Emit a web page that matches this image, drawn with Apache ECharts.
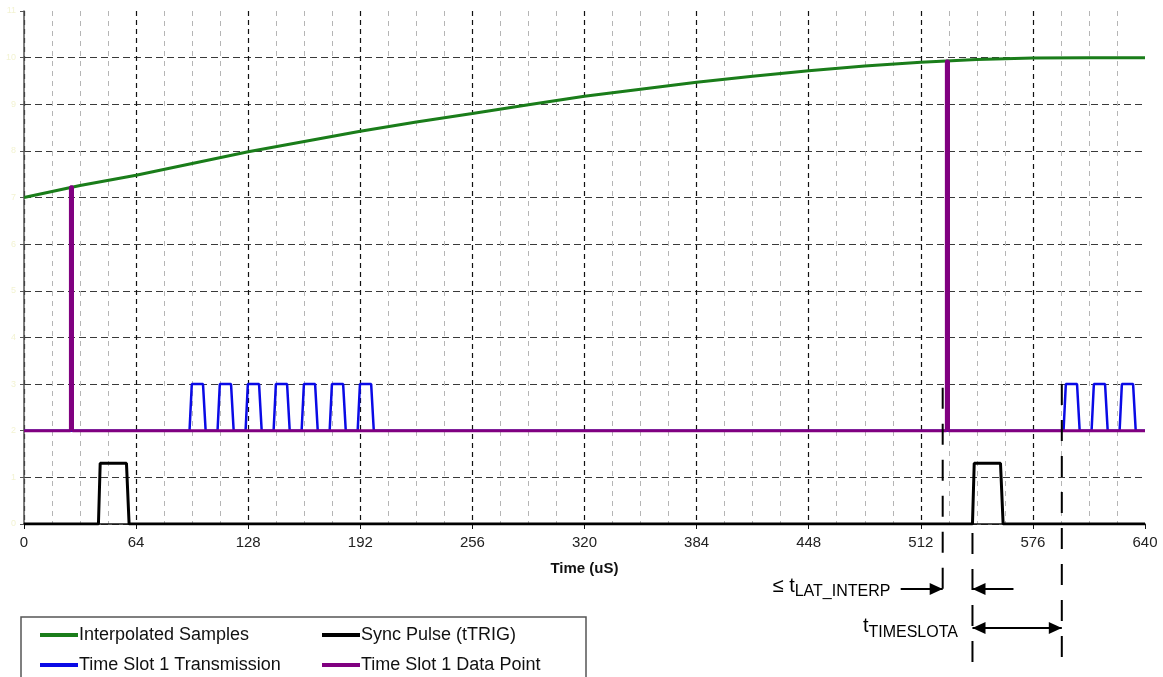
<!DOCTYPE html>
<html>
<head>
<meta charset="utf-8">
<script src="https://cdn.jsdelivr.net/npm/echarts@6/dist/echarts.min.js"></script>
<style>
  html, body { margin: 0; padding: 0; background: #fff; }
  #main { width: 1163px; height: 677px; }
</style>
</head>
<body>
<div id="main"></div>
<script>
// interpolated samples (green curve)
var sampleTime = [0, 32, 64, 96, 128, 160, 192, 224, 256, 288, 320, 352, 384, 416, 448, 480, 512, 544, 576, 608, 640];
var sampleValue = [7.0, 7.26, 7.48, 7.73, 7.98, 8.2, 8.42, 8.62, 8.8, 8.99, 9.17, 9.32, 9.47, 9.6, 9.72, 9.82, 9.9, 9.96, 9.99, 10.0, 10.0];

// time slot 1 transmission (blue pulses)
var txLow = 2, txHigh = 3;
var txPulseStart = [94.5, 110.5, 126.5, 142.5, 158.5, 174.5, 190.5, 593.5, 609.5, 625.5];
var txEdgeTime = [0, 1.3, 7.7, 9.2];

// sync pulse (black)
var syncLow = 0, syncHigh = 1.3;
var syncPulseStart = [42.5, 541.5];
var syncEdgeTime = [0, 1, 16, 17.5];

// time slot 1 data point (purple spikes)
var dpBase = 2;
var dpSpikeTime = [27.1, 527.2];
var dpSpikeValue = [7.23, 9.93];

// annotation marker times
var latStart = 524.5, syncStart = 541.5, slotStart = 592.5;

function pulses(starts, edges, lo, hi) {
  var pts = [[0, lo]];
  starts.forEach(function (s) {
    pts.push([s + edges[0], lo]);
    pts.push([s + edges[1], hi]);
    pts.push([s + edges[2], hi]);
    pts.push([s + edges[3], lo]);
  });
  pts.push([640, lo]);
  return pts;
}

var greenData = sampleTime.map(function (t, i) { return [t, sampleValue[i]]; });
var blueData = pulses(txPulseStart, txEdgeTime, txLow, txHigh);
var blackData = pulses(syncPulseStart, syncEdgeTime, syncLow, syncHigh);
var purpleData = [[0, dpBase]];
dpSpikeTime.forEach(function (t, i) {
  purpleData.push([t - 0.6, dpBase], [t - 0.6, dpSpikeValue[i]], [t + 0.6, dpSpikeValue[i]], [t + 0.6, dpBase]);
});
purpleData.push([640, dpBase]);

var FONT = 'Liberation Sans, Arial, sans-serif';
var chart = echarts.init(document.getElementById('main'));

function legendItem(name, left, top) {
  return {
    data: [name], left: left, top: top,
    icon: 'rect', itemWidth: 38, itemHeight: 4,
    textStyle: { fontSize: 18, color: '#111', fontFamily: FONT, padding: [0, 0, 0, -4] }
  };
}

chart.setOption({
  animation: false,
  textStyle: { fontFamily: FONT },
  grid: { left: 24, right: 18, top: 11, bottom: 153 },
  xAxis: {
    type: 'value', min: 0, max: 640, interval: 64,
    axisLine: { lineStyle: { color: '#111', width: 1.5 } },
    axisTick: { length: 5, lineStyle: { color: '#111' } },
    axisLabel: { fontSize: 15, color: '#222', margin: 11, fontFamily: FONT },
    name: 'Time (uS)', nameLocation: 'middle', nameGap: 37,
    nameTextStyle: { fontSize: 15, fontWeight: 'bold', color: '#111', fontFamily: FONT },
    splitLine: { show: true, showMaxLine: false, lineStyle: { color: '#111', type: [5, 4], width: 1.2 } },
    minorTick: { show: false, splitNumber: 4 },
    minorSplitLine: { show: true, lineStyle: { color: '#b5b5b5', type: [5, 5], width: 1 } }
  },
  yAxis: {
    type: 'value', min: 0, max: 11, interval: 1,
    axisLine: { show: true, lineStyle: { color: '#555', width: 1.5 } },
    axisTick: { show: true, length: 4, lineStyle: { color: '#555' } },
    axisLabel: { color: '#f3f3d2', fontSize: 9, margin: 8 },
    splitLine: { show: true, showMaxLine: false, lineStyle: { color: '#3a3a3a', type: [7, 4], width: 1.2 } }
  },
  legend: [
    legendItem('Interpolated Samples', 35, 621),
    legendItem('Time Slot 1 Transmission', 35, 651),
    legendItem('Sync Pulse (tTRIG)', 317, 621),
    legendItem('Time Slot 1 Data Point', 317, 651)
  ],
  series: [
    {
      name: 'Interpolated Samples', type: 'line', data: greenData,
      smooth: false, showSymbol: false,
      itemStyle: { color: '#1a7d1a' }, lineStyle: { color: '#1a7d1a', width: 3 }, z: 3
    },
    {
      name: 'Sync Pulse (tTRIG)', type: 'line', data: blackData, showSymbol: false,
      itemStyle: { color: '#000' }, lineStyle: { color: '#000', width: 3 }, z: 2
    },
    {
      name: 'Time Slot 1 Transmission', type: 'line', data: blueData, showSymbol: false,
      itemStyle: { color: '#0a0ae6' }, lineStyle: { color: '#0a0ae6', width: 2.5 }, z: 2
    },
    {
      name: 'Time Slot 1 Data Point', type: 'line', data: purpleData, showSymbol: false,
      itemStyle: { color: '#800080' }, lineStyle: { color: '#800080', width: 3 }, z: 4
    }
  ]
});

// annotations below the plot, placed from axis values
var px = function (v) { return chart.convertToPixel({ xAxisIndex: 0 }, v); };
var py = function (v) { return chart.convertToPixel({ yAxisIndex: 0 }, v); };

function vdash(x, y1, y2) {
  return { type: 'line', shape: { x1: x, y1: y1, x2: x, y2: y2 },
    style: { stroke: '#000', lineWidth: 2, lineDash: [21, 15] }, z: 10 };
}
function head(tipX, y, dir) {
  var b = tipX - dir * 13;
  return { type: 'polygon', shape: { points: [[tipX, y], [b, y - 6], [b, y + 6]] },
    style: { fill: '#000' }, z: 10 };
}
function hline(x1, x2, y) {
  return { type: 'line', shape: { x1: x1, y1: y, x2: x2, y2: y },
    style: { stroke: '#000', lineWidth: 2 }, z: 10 };
}
function txt(x, y, s, size, align) {
  return { type: 'text', x: x, y: y, z: 10,
    style: { text: s, fontSize: size, fontFamily: FONT, fill: '#000', align: align, verticalAlign: 'middle' } };
}

var xa = px(latStart), xb = px(syncStart), xc = px(slotStart);
var yArrow1 = 589, yArrow2 = 628;

chart.setOption({
  graphic: [
    vdash(xa, py(2.92), 600),
    vdash(xb, 533, 677),
    vdash(xc, py(3.0), 662),
    hline(xa - 42, xa, yArrow1), head(xa, yArrow1, 1),
    hline(xb, xb + 41, yArrow1), head(xb, yArrow1, -1),
    hline(xb, xc, yArrow2), head(xb, yArrow2, -1), head(xc, yArrow2, 1),
    txt(xa - 148, 586, '\u2264 t', 20, 'right'),
    txt(xa - 148, 592, 'LAT_INTERP', 16, 'left'),
    txt(xb - 104, 626, 't', 20, 'right'),
    txt(xb - 104, 633, 'TIMESLOTA', 16, 'left'),
    { type: 'rect', shape: { x: 21, y: 617, width: 565, height: 80 },
      style: { fill: 'none', stroke: '#555', lineWidth: 1.5 }, z: 0 }
  ]
});
</script>
</body>
</html>
